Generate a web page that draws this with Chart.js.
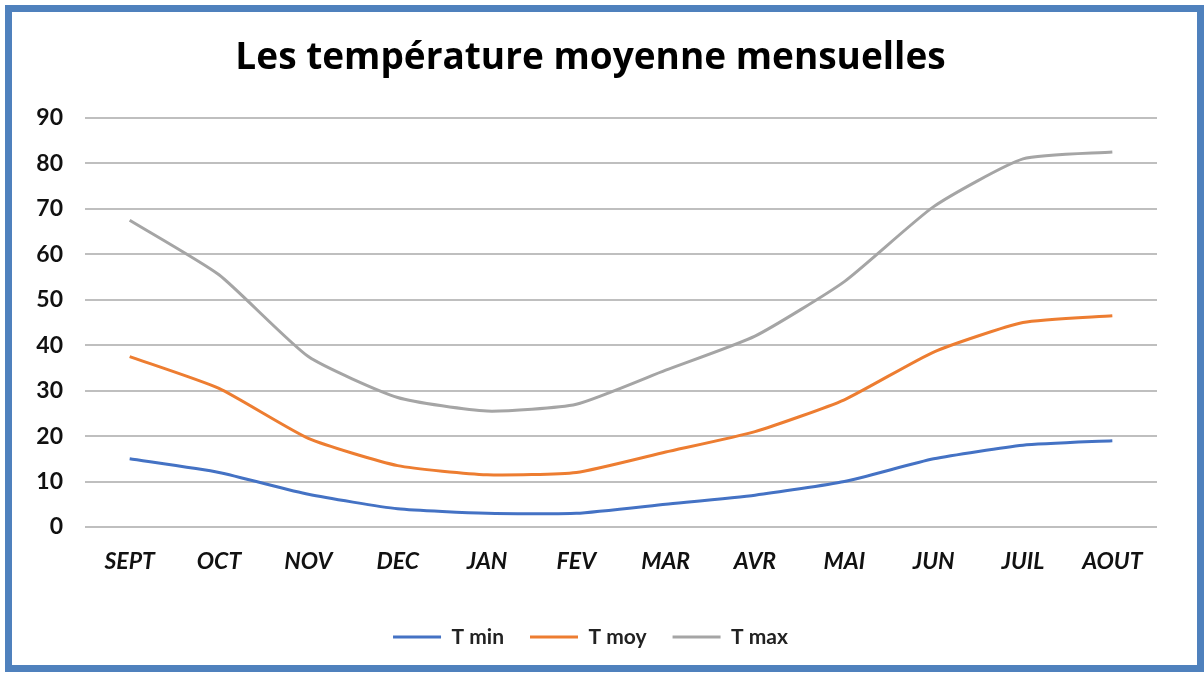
<!DOCTYPE html>
<html>
<head>
<meta charset="utf-8">
<script src="https://cdn.jsdelivr.net/npm/chart.js@4.4.1/dist/chart.umd.min.js"></script>
<style>
  html, body { margin: 0; padding: 0; background: #fff; }
  #wrap { position: relative; width: 1204px; height: 678px; }
  #frame { position: absolute; left: 5px; top: 5px; width: 1185px; height: 653px;
           border: 7px solid #4F81BD; pointer-events: none; }
</style>
</head>
<body>
<div id="wrap">
  <canvas id="c" width="1204" height="678"></canvas>
  <div id="frame"></div>
</div>
<script>
const months = ['SEPT','OCT','NOV','DEC','JAN','FEV','MAR','AVR','MAI','JUN','JUIL','AOUT'];
const tMin = [15, 12, 7.2, 4, 3, 3, 5, 7, 10, 15, 18, 19];
const tMoy = [37.5, 30.5, 19.5, 13.5, 11.5, 12, 16.5, 21, 28, 38.5, 45, 46.5];
const tMax = [67.5, 55.5, 37.5, 28.5, 25.5, 27, 34.5, 42, 54, 70.5, 81, 82.5];
const yTicks = [0, 10, 20, 30, 40, 50, 60, 70, 80, 90];

const FONT = 'Lato, "Open Sans", sans-serif';
const TFONT = '"Open Sans", Lato, sans-serif';

new Chart(document.getElementById('c'), {
  type: 'line',
  data: {
    labels: months,
    datasets: [
      { label: 'T min', data: tMin, borderColor: '#4472C4', backgroundColor: '#4472C4' },
      { label: 'T moy', data: tMoy, borderColor: '#ED7D31', backgroundColor: '#ED7D31' },
      { label: 'T max', data: tMax, borderColor: '#A5A5A5', backgroundColor: '#A5A5A5' }
    ]
  },
  options: {
    responsive: false,
    animation: false,
    layout: { padding: { left: 24, right: 47, top: 0, bottom: 20.5 } },
    elements: {
      line: { borderWidth: 3, tension: 0.18 },
      point: { radius: 0, hoverRadius: 0 }
    },
    plugins: {
      title: {
        display: true,
        text: 'Les température moyenne mensuelles',
        color: '#000',
        font: { family: TFONT, size: 37, weight: 'bold', lineHeight: 1.2 },
        padding: { top: 35.8, bottom: 37.8 }
      },
      legend: {
        position: 'bottom',
        labels: {
          color: '#222',
          font: { family: FONT, size: 21, weight: 'bold' },
          boxWidth: 48,
          boxHeight: 3,
          padding: 26,
          generateLabels: (chart) => chart.data.datasets.map((ds, i) => ({
            text: ds.label,
            fillStyle: ds.borderColor,
            strokeStyle: ds.borderColor,
            lineWidth: 0,
            hidden: false,
            datasetIndex: i,
            fontColor: '#222'
          }))
        }
      },
      tooltip: { enabled: false }
    },
    scales: {
      x: {
        offset: true,
        grid: { display: false, drawTicks: false },
        border: { display: false },
        ticks: {
          color: '#111',
          font: { family: FONT, size: 23, weight: 'bold', style: 'italic' },
          padding: 21,
          maxRotation: 0
        },
        afterFit: (s) => { s.height = 73.5; }
      },
      y: {
        min: 0, max: 90,
        afterBuildTicks: (s) => { s.ticks = yTicks.map(v => ({ value: v })); },
        grid: { color: '#BFBFBF', lineWidth: 2, drawTicks: false },
        border: { display: false },
        ticks: {
          color: '#111',
          font: { family: FONT, size: 23, weight: 'bold' },
          padding: 22
        },
        afterFit: (s) => { s.width = 61; }
      }
    }
  }
});
</script>
</body>
</html>
